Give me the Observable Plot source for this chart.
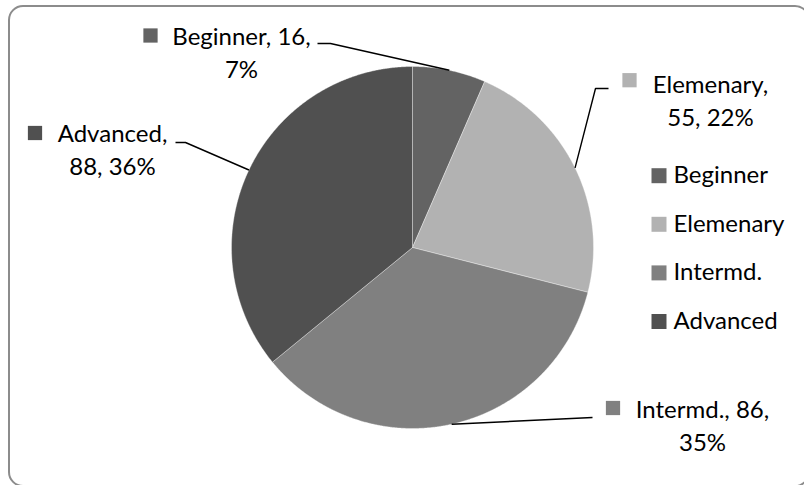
<!DOCTYPE html>
<html><head><meta charset="utf-8">
<script src="https://cdn.jsdelivr.net/npm/d3@7"></script>
<script src="https://cdn.jsdelivr.net/npm/@observablehq/plot@0.6"></script>
<style>
body{margin:0;background:#fff;}
#wrap{position:relative;width:804px;height:485px;overflow:hidden;background:#fff;}
#frame{position:absolute;left:8px;top:5px;width:802px;height:482px;box-sizing:border-box;border:2px solid #8c8c8c;border-radius:15px;}
#chart{position:absolute;left:0;top:0;}
</style></head><body>
<div id="wrap"><div id="frame"></div><div id="chart"></div></div>
<script>
// ---- data ----
const categories = ["Beginner", "Elemenary", "Intermd.", "Advanced"];
const values = [16, 55, 86, 88];
const percents = [7, 22, 35, 36];
const legendLabels = ["Beginner", "Elemenary", "Intermd.", "Advanced"];
const colors = ["#636363", "#b2b2b2", "#808080", "#505050"];
// number of comma-separated parts kept on the first line of each data label
const labelBreak = [2, 1, 2, 1];

// ---- layout ----
const W = 804, H = 485, CX = 412, CY = 247, R = 181;
const FS = 24, LH = 33;
const labelLayout = [
  {tx: 241, base: 44.3, sx: 150, sy: 35, leader: [[317, 43], [330, 43]]},
  {tx: 710, base: 92.7, sx: 629, sy: 79.7, leader: [[608, 88], [595, 88]]},
  {tx: 702, base: 417.3, sx: 612.5, sy: 407.5, leader: [[592, 417]]},
  {tx: 112, base: 141.7, sx: 34.5, sy: 132.5, leader: [[175, 142], [185, 142]]}
];
const legendLayout = {sx: 658.5, tx: 673, base0: 182.7, step: 48.6};

// ---- geometry from data ----
const arcs = d3.pie().sort(null).value(d => d)(values);
const px = a => CX + R * Math.sin(a);
const py = a => CY - R * Math.cos(a);

const slicePts = [];
arcs.forEach((a, i) => {
  const cat = categories[i];
  slicePts.push({cat, x: CX, y: CY});
  const n = Math.max(2, Math.ceil((a.endAngle - a.startAngle) / 0.005));
  for (let k = 0; k <= n; k++) {
    const t = a.startAngle + (a.endAngle - a.startAngle) * k / n;
    slicePts.push({cat, x: px(t), y: py(t)});
  }
  slicePts.push({cat, x: CX, y: CY});
});

const leaderPts = [];
arcs.forEach((a, i) => {
  const cat = categories[i];
  labelLayout[i].leader.forEach(([x, y]) => leaderPts.push({cat, x, y}));
  const m = (a.startAngle + a.endAngle) / 2;
  leaderPts.push({cat, x: px(m), y: py(m)});
});

const labels = categories.map((c, i) => {
  const parts = [c, String(values[i]), percents[i] + "%"];
  const b = labelBreak[i];
  const text = parts.slice(0, b).join(", ") + ",\n" + parts.slice(b).join(", ");
  return {cat: c, text, x: labelLayout[i].tx, y: labelLayout[i].base - 0.71 * LH, sx: labelLayout[i].sx, sy: labelLayout[i].sy, color: colors[i]};
});

const legend = legendLabels.map((c, i) => ({
  cat: c, color: colors[i],
  y: legendLayout.base0 + i * legendLayout.step - 0.32 * FS,
  sy: legendLayout.base0 + i * legendLayout.step - 7.5
}));

const sqR = 15 / Math.sqrt(Math.PI);

const chart = Plot.plot({
  width: W, height: H, margin: 0,
  x: {domain: [0, W], range: [0, W], axis: null},
  y: {domain: [0, H], range: [0, H], axis: null},
  style: {fontFamily: "Lato, 'Open Sans', sans-serif", fontSize: "24px", background: "transparent", overflow: "visible"},
  marks: [
    ...categories.map((c, i) => Plot.line(slicePts.filter(d => d.cat === c), {
      x: "x", y: "y", fill: colors[i], stroke: "#ffffff", strokeOpacity: 0.35, strokeWidth: 1, curve: "linear"
    })),
    Plot.line(leaderPts, {x: "x", y: "y", z: "cat", stroke: "#000", strokeWidth: 1.4, strokeLinejoin: "miter", strokeLinecap: "butt"}),
    Plot.dot(labels, {x: "sx", y: "sy", symbol: "square", r: sqR * 0.95, fill: "color", stroke: null}),
    Plot.text(labels, {x: "x", y: "y", text: "text", lineAnchor: "top", lineHeight: LH / FS, fontSize: FS, fill: "#000", textAnchor: "middle"}),
    Plot.dot(legend, {x: () => legendLayout.sx, y: "sy", symbol: "square", r: sqR, fill: "color", stroke: null}),
    Plot.text(legend, {x: () => legendLayout.tx, y: "y", text: "cat", fontSize: FS, fill: "#000", textAnchor: "start"})
  ]
});
document.getElementById("chart").appendChild(chart);
</script>
</body></html>
